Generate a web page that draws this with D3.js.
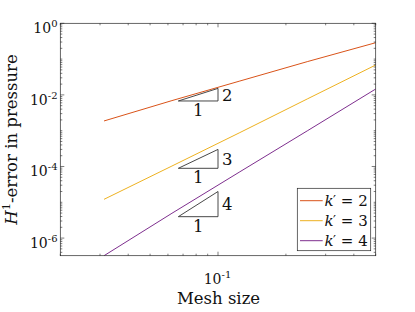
<!DOCTYPE html>
<html>
<head>
<meta charset="utf-8">
<script src="https://cdn.jsdelivr.net/npm/d3@7"></script>
<style>
  body { margin: 0; background: #fff; }
  svg { font-family: "DejaVu Serif", serif; }
</style>
</head>
<body>
<svg id="chart" width="415" height="312"></svg>
<script>
// Mesh sizes and H1 pressure errors
const meshSize = [1/32, 1/16, 1/8, 1/4, 1/2];
const errK2 = [1.87e-3, 6.93e-3, 2.44e-2, 8.57e-2, 0.287];
const errK3 = [1.21e-5, 1.03e-4, 8.85e-4, 7.83e-3, 6.84e-2];
const errK4 = [3.22e-7, 4.93e-6, 7.11e-5, 1.01e-3, 1.46e-2];
const seriesNames = ["2", "3", "4"];
const seriesColors = ["#D95319", "#EDB120", "#7E2F8E"];

// Slope triangles: order, bottom value, x extent
const triOrder = [2, 3, 4];
const triBase = [6.76e-3, 8.9e-5, 3.96e-6];
const triX = [0.0667, 0.1];

// Tick values
const xMajor = [0.1];
const yMajor = [1e-6, 1e-4, 1e-2, 1];

const svg = d3.select("#chart");
const plotL = 60.3, plotR = 375.7, plotT = 23.3, plotB = 255.7;
const axisColor = "#262626";

const x = d3.scaleLog().domain([0.02, 0.5]).range([plotL, plotR]);
const y = d3.scaleLog().domain([3.22e-7, 1]).range([plotB, plotT]);

// Minor ticks at every 1..9 of each decade in range
function minorTicks(scale, majors) {
    let [d0, d1] = scale.domain();
    let ticks = [];
    for (let e = Math.floor(Math.log10(d0)); e <= Math.ceil(Math.log10(d1)); e++) {
        for (let m = 1; m < 10; m++) {
            let v = m * Math.pow(10, e);
            if (v >= d0 * 0.999 && v <= d1 * 1.001 && !majors.some(t => Math.abs(t - v) / v < 1e-6)) {
                ticks.push(v);
            }
        }
    }
    return ticks;
}
const xMinor = minorTicks(x, xMajor);
const yMinor = minorTicks(y, yMajor);

// Series lines
const data = [errK2, errK3, errK4].map((errs, i) => ({
    name: seriesNames[i],
    color: seriesColors[i],
    points: meshSize.map((h, j) => [h, errs[j]])
}));

const line = d3.line().x(d => x(d[0])).y(d => y(d[1]));

svg.append("defs").append("clipPath").attr("id", "clip")
    .append("rect").attr("x", plotL).attr("y", plotT)
    .attr("width", plotR - plotL).attr("height", plotB - plotT);

svg.append("g").attr("clip-path", "url(#clip)")
    .selectAll("path")
    .data(data)
    .enter().append("path")
        .attr("d", d => line(d.points))
        .attr("fill", "none")
        .attr("stroke", d => d.color)
        .attr("stroke-width", 1);

// Slope triangles
const tri = svg.append("g");
triOrder.forEach((k, i) => {
    let x0 = x(triX[0]), x1 = x(triX[1]);
    let yb = y(triBase[i]);
    let yt = y(triBase[i] * Math.pow(triX[1] / triX[0], k));
    tri.append("path")
        .attr("d", `M${x0},${yb}L${x1},${yb}L${x1},${yt}Z`)
        .attr("fill", "none")
        .attr("stroke", "#333")
        .attr("stroke-width", 0.9);
    tri.append("text")
        .attr("x", x1 + 4)
        .attr("y", (yb + yt) / 2 + 6)
        .attr("font-size", 16.5)
        .attr("fill", "#111")
        .text(k);
    tri.append("text")
        .attr("x", (x0 + x1) / 2)
        .attr("y", yb + 15)
        .attr("text-anchor", "middle")
        .attr("font-size", 16.5)
        .attr("fill", "#111")
        .text("1");
});

// Box and ticks
svg.append("rect")
    .attr("x", plotL).attr("y", plotT)
    .attr("width", plotR - plotL).attr("height", plotB - plotT)
    .attr("fill", "none")
    .attr("stroke", axisColor)
    .attr("stroke-width", 0.7);

function drawTicks(values, len) {
    let g = svg.append("g").attr("stroke", axisColor).attr("stroke-width", 0.6);
    values.x.forEach(v => {
        let px = x(v);
        g.append("line").attr("x1", px).attr("x2", px).attr("y1", plotB).attr("y2", plotB - len);
        g.append("line").attr("x1", px).attr("x2", px).attr("y1", plotT).attr("y2", plotT + len);
    });
    values.y.forEach(v => {
        let py = y(v);
        g.append("line").attr("x1", plotL).attr("x2", plotL + len).attr("y1", py).attr("y2", py);
        g.append("line").attr("x1", plotR).attr("x2", plotR - len).attr("y1", py).attr("y2", py);
    });
}
drawTicks({x: xMajor, y: yMajor}, 4);
drawTicks({x: xMinor, y: yMinor}, 2);

// Tick labels with superscript exponents
function powLabel(g, v) {
    let t = g.append("text").attr("font-size", 14).attr("fill", "#111");
    t.append("tspan").text("10");
    t.append("tspan").attr("font-size", 10).attr("dy", -6)
        .text(String(Math.round(Math.log10(v))));
    return t;
}
yMajor.forEach(v => {
    let t = powLabel(svg, v);
    t.attr("x", 57.5).attr("y", y(v) + 10).attr("text-anchor", "end");
});
xMajor.forEach(v => {
    let t = powLabel(svg, v);
    t.attr("x", x(v) - 0.5).attr("y", 284).attr("text-anchor", "middle");
});

// Axis titles
svg.append("text")
    .attr("x", (plotL + plotR) / 2 + 0.5)
    .attr("y", 304)
    .attr("text-anchor", "middle")
    .attr("font-size", 16.5)
    .attr("fill", "#111")
    .text("Mesh size");

let yTitle = svg.append("text")
    .attr("transform", `translate(16.5,${(plotT + plotB) / 2}) rotate(-90)`)
    .attr("text-anchor", "middle")
    .attr("font-size", 16.5)
    .attr("fill", "#111");
yTitle.append("tspan").attr("font-style", "italic").text("H");
yTitle.append("tspan").attr("font-size", 11.5).attr("dy", -7).text("1");
yTitle.append("tspan").attr("dy", 7).text("-error in pressure");

// Legend
const legend = svg.append("g");
legend.append("rect")
    .attr("x", 297.3).attr("y", 188.3)
    .attr("width", 73.4).attr("height", 62.4)
    .attr("fill", "#fff")
    .attr("stroke", axisColor)
    .attr("stroke-width", 0.7);
data.forEach((d, i) => {
    let ly = 200.7 + i * 20;
    legend.append("line")
        .attr("x1", 300).attr("x2", 322.7)
        .attr("y1", ly).attr("y2", ly)
        .attr("stroke", d.color).attr("stroke-width", 1);
    let t = legend.append("text")
        .attr("x", 324.5).attr("y", ly + 5.5)
        .attr("font-size", 15)
        .attr("fill", "#111");
    t.append("tspan").attr("font-style", "italic").text("k");
    t.append("tspan").attr("dx", -0.5).attr("dy", -1).attr("font-size", 13).text("\u2032");
    t.append("tspan").attr("dy", 1).text(" = " + d.name);
});
</script>
</body>
</html>
